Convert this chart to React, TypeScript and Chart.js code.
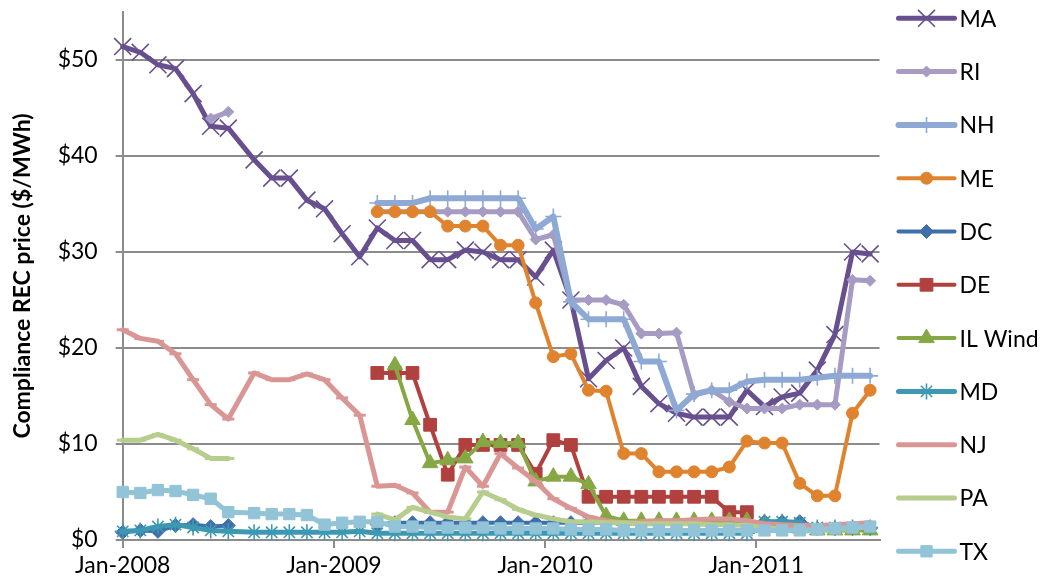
import React, { useEffect, useRef } from 'react';
import { Chart, registerables } from 'chart.js';
import { drawPoint } from 'chart.js/helpers';

Chart.register(...registerables);

// Observation dates (first months at month start, later mid-month)
const obsDates = [
  '2008-01-01', '2008-02-01', '2008-03-01', '2008-04-01', '2008-05-01', '2008-06-01', '2008-07-01',
  '2008-08-15', '2008-09-15', '2008-10-15', '2008-11-15', '2008-12-15',
  '2009-01-15', '2009-02-15', '2009-03-15', '2009-04-15', '2009-05-15', '2009-06-15',
  '2009-07-15', '2009-08-15', '2009-09-15', '2009-10-15', '2009-11-15', '2009-12-15',
  '2010-01-15', '2010-02-15', '2010-03-15', '2010-04-15', '2010-05-15', '2010-06-15',
  '2010-07-15', '2010-08-15', '2010-09-15', '2010-10-15', '2010-11-15', '2010-12-15',
  '2011-01-15', '2011-02-15', '2011-03-15', '2011-04-15', '2011-05-15', '2011-06-15', '2011-07-15',
];

const axisStart = '2008-01-01';
const axisEnd = '2011-08-01';
const tickDates = ['2008-01-01', '2009-01-01', '2010-01-01', '2011-01-01'];
const tickLabels = ['Jan-2008', 'Jan-2009', 'Jan-2010', 'Jan-2011'];
const yTicks = [0, 10, 20, 30, 40, 50];

const _ = null;

const maValues = [51.4, 50.8, 49.5, 49.1, 46.5, 43.1, 42.9, 39.6, 37.7, 37.7, 35.4, 34.5,
  31.9, 29.5, 32.5, 31.2, 31.2, 29.2, 29.2, 30.2, 30.0, 29.2, 29.2, 27.4,
  30.2, 25.0, 16.8, 18.7, 20.0, 16.0, 14.2, 13.2, 12.8, 12.8, 12.8, 15.6,
  13.9, 14.9, 15.3, 17.7, 21.4, 30.0, 29.8];
const riValues = [_, _, _, _, _, 43.9, 44.6, _, _, _, _, _,
  _, _, 34.2, 34.2, 34.2, 34.2, 34.2, 34.2, 34.2, 34.2, 34.2, 31.3,
  31.8, 25.0, 25.0, 25.0, 24.5, 21.5, 21.5, 21.6, 15.1, 15.6, 14.4, 13.7,
  13.7, 13.7, 14.1, 14.1, 14.1, 27.1, 27.0];
const nhValues = [_, _, _, _, _, _, _, _, _, _, _, _,
  _, _, 35.1, 35.1, 35.1, 35.6, 35.6, 35.6, 35.6, 35.6, 35.6, 32.4,
  33.7, 24.8, 23.0, 23.0, 23.0, 18.6, 18.6, 13.5, 15.2, 15.6, 15.6, 16.5,
  16.7, 16.7, 16.7, 16.9, 17.1, 17.1, 17.1];
const meValues = [_, _, _, _, _, _, _, _, _, _, _, _,
  _, _, 34.2, 34.2, 34.2, 34.2, 32.7, 32.7, 32.7, 30.7, 30.7, 24.7,
  19.1, 19.4, 15.6, 15.5, 9.0, 9.0, 7.1, 7.1, 7.1, 7.1, 7.6, 10.3,
  10.1, 10.1, 5.9, 4.6, 4.6, 13.2, 15.6];
const dcValues = [0.8, 1.0, 0.9, 1.5, 1.6, 1.4, 1.5, _, _, _, _, _,
  _, _, 1.6, 1.8, 1.8, 1.8, 1.8, 1.8, 1.8, 1.8, 1.8, 1.8,
  1.8, 1.8, 1.8, 1.8, 1.8, 1.8, 1.8, 1.8, 1.8, 1.8, 1.8, 1.8,
  1.9, 1.9, 1.9, 1.2, 1.2, 1.2, 1.2];
const deValues = [_, _, _, _, _, _, _, _, _, _, _, _,
  _, _, 17.4, 17.4, 17.4, 12.0, 6.8, 9.9, 9.9, 9.9, 9.9, 6.9,
  10.4, 9.9, 4.5, 4.5, 4.5, 4.5, 4.5, 4.5, 4.5, 4.5, 2.9, 2.9,
  _, _, _, _, _, _, _];
const ilWindValues = [_, _, _, _, _, _, _, _, _, _, _, _,
  _, _, _, 18.2, 12.5, 8.0, 8.3, 8.5, 10.2, 10.1, 10.1, 6.1,
  6.6, 6.6, 5.8, 2.5, 2.0, 2.0, 2.0, 2.0, 2.0, 2.0, 2.0, 2.0,
  1.6, 1.4, 1.2, 1.0, 1.0, 1.0, 1.0];
const mdValues = [0.9, 1.0, 1.4, 1.6, 1.3, 1.0, 0.9, 0.8, 0.8, 0.8, 0.8, 0.8,
  0.8, 0.9, 0.7, 0.7, 0.7, 0.7, 0.7, 0.7, 0.7, 0.7, 0.7, 0.7,
  0.7, 0.7, 0.7, 0.7, 0.7, 0.7, 0.7, 0.7, 0.7, 0.7, 0.7, 0.7,
  1.9, 1.9, 1.8, 1.3, 1.3, 1.3, 1.3];
const njValues = [21.9, 21.0, 20.7, 19.4, 16.7, 14.1, 12.6, 17.4, 16.7, 16.7, 17.3, 16.7,
  14.8, 13.0, 5.6, 5.7, 4.9, 2.9, 2.9, 7.6, 5.6, 9.0, 7.5, 6.1,
  4.3, 3.3, 2.4, 2.0, 1.8, 1.9, 2.0, 2.0, 2.1, 2.2, 2.2, 2.0,
  1.7, 1.6, 1.5, 1.5, 1.6, 1.7, 1.8];
const paValues = [10.4, 10.4, 11.0, 10.4, 9.5, 8.5, 8.5, _, _, _, _, _,
  _, _, 2.7, 2.1, 3.4, 2.9, 2.4, 2.2, 5.0, 4.2, 3.2, 2.6,
  2.2, 1.9, 1.9, 1.8, 1.8, 1.7, 1.7, 1.7, 1.7, 1.6, 1.6, 1.5,
  1.3, 1.1, 1.0, 1.0, 1.1, 1.2, 1.4];
const txValues = [5.0, 4.9, 5.2, 5.1, 4.7, 4.3, 2.9, 2.8, 2.7, 2.7, 2.6, 1.6,
  1.8, 1.9, 1.9, 1.4, 1.4, 1.3, 1.3, 1.3, 1.3, 1.2, 1.2, 1.2,
  1.2, 1.1, 1.1, 1.1, 1.0, 1.0, 1.0, 1.0, 1.0, 1.0, 1.0, 1.0,
  1.0, 1.0, 1.0, 1.1, 1.2, 1.3, 1.4];

const seriesNames = ['MA', 'RI', 'NH', 'ME', 'DC', 'DE', 'IL Wind', 'MD', 'NJ', 'PA', 'TX'];
const seriesValues = [maValues, riValues, nhValues, meValues, dcValues, deValues, ilWindValues,
  mdValues, njValues, paValues, txValues];

// Styles
const seriesStyles = [
  { color: '#68508F', width: 5, point: 'crossRot', radius: 12, pw: 1.6, fill: false },
  { color: '#A59BC3', width: 5, point: 'rectRot', radius: 5.5, pw: 1, fill: true },
  { color: '#8EA9D4', width: 6, point: 'cross', radius: 8, pw: 1.6, fill: false },
  { color: '#E0832F', width: 4, point: 'circle', radius: 6, pw: 1, fill: true },
  { color: '#3F6FAA', width: 4, point: 'rectRot', radius: 7, pw: 1, fill: true },
  { color: '#B0413E', width: 4, point: 'rect', radius: 9, pw: 1, fill: true },
  { color: '#86A844', width: 4, point: 'triangle', radius: 9, pw: 1, fill: true },
  { color: '#3D98B2', width: 5, point: 'star', radius: 8, pw: 1.6, fill: false },
  { color: '#D99694', width: 5, point: 'line', radius: 6, pw: 3, fill: false },
  { color: '#B6CD8D', width: 5, point: 'line', radius: 6, pw: 3, fill: false },
  { color: '#92C3D7', width: 5, point: 'rect', radius: 8, pw: 1, fill: true },
];

const FONT = 'Lato';

function toMonths(d: string): number {
  const [y, m, dd] = d.split('-').map(Number);
  return (y - 2008) * 12 + (m - 1) + (dd - 1) / 30;
}

const sideLegend = {
  id: 'sideLegend',
  afterDraw(chart: any) {
    const ctx = chart.ctx;
    const x0 = chart.chartArea.right + 19;
    chart.data.datasets.forEach((ds: any, i: number) => {
      const y = 18.3 + i * 53.3;
      ctx.save();
      ctx.strokeStyle = ds.borderColor;
      ctx.lineWidth = ds.borderWidth;
      ctx.lineCap = 'round';
      ctx.beginPath();
      ctx.moveTo(x0, y);
      ctx.lineTo(x0 + 56, y);
      ctx.stroke();
      ctx.fillStyle = ds.pointBackgroundColor;
      ctx.strokeStyle = ds.pointBorderColor;
      ctx.lineWidth = ds.pointBorderWidth;
      ctx.lineCap = 'butt';
      drawPoint(ctx, { pointStyle: ds.pointStyle, radius: ds.pointRadius, rotation: 0, borderWidth: ds.pointBorderWidth } as any, x0 + 28, y);
      ctx.fillStyle = '#000';
      ctx.font = `23px ${FONT}`;
      ctx.textBaseline = 'middle';
      ctx.textAlign = 'left';
      ctx.fillText(ds.label, x0 + 61, y + 1);
      ctx.restore();
    });
  },
};

export default function App() {
  const ref = useRef<HTMLCanvasElement | null>(null);
  useEffect(() => {
    if (!ref.current) return;
    const xs = obsDates.map(toMonths);
    const n = seriesNames.length;
    const datasets = seriesNames.map((name, i) => {
      const st = seriesStyles[i];
      return {
        label: name,
        data: seriesValues[i].map((v, k) => ({ x: xs[k], y: v })),
        borderColor: st.color,
        backgroundColor: st.color,
        borderWidth: st.width,
        pointStyle: st.point,
        pointRadius: st.radius,
        pointBorderWidth: st.pw,
        pointBorderColor: st.color,
        pointBackgroundColor: st.fill ? st.color : 'rgba(0,0,0,0)',
        borderJoinStyle: 'round',
        borderCapStyle: 'round',
        tension: 0,
        spanGaps: false,
        clip: false,
        order: n - i,
      };
    });
    const tickVals = tickDates.map(toMonths);
    const chart = new Chart(ref.current, {
      type: 'line',
      data: { datasets: datasets as any },
      plugins: [sideLegend],
      options: {
        animation: false,
        responsive: true,
        maintainAspectRatio: false,
        events: [],
        layout: { autoPadding: false, padding: { top: 12, right: 162.5, bottom: 0, left: 0 } },
        plugins: { legend: { display: false }, tooltip: { enabled: false } },
        scales: {
          x: {
            type: 'linear',
            min: toMonths(axisStart),
            max: toMonths(axisEnd),
            afterBuildTicks: (scale: any) => {
              scale.ticks = tickVals.map((v) => ({ value: v }));
            },
            afterFit: (scale: any) => {
              scale.height = 48;
              scale.paddingLeft = 0;
              scale.paddingRight = 0;
            },
            ticks: {
              autoSkip: false,
              maxRotation: 0,
              padding: 4,
              color: '#000',
              font: { family: FONT, size: 23 },
              callback: (v: any) => {
                const idx = tickVals.findIndex((t) => Math.abs(t - v) < 1e-6);
                return idx >= 0 ? tickLabels[idx] : '';
              },
            },
            grid: { drawOnChartArea: false, drawTicks: true, tickLength: 8, color: '#8C8C8C', lineWidth: 2 },
            border: { display: true, color: '#8C8C8C', width: 2 },
          },
          y: {
            type: 'linear',
            min: 0,
            max: 55,
            afterBuildTicks: (scale: any) => {
              scale.ticks = yTicks.map((v) => ({ value: v }));
            },
            afterFit: (scale: any) => {
              scale.width = 122.7;
              scale.paddingTop = 0;
              scale.paddingBottom = 0;
            },
            ticks: {
              padding: 18,
              color: '#000',
              font: { family: FONT, size: 23 },
              callback: (v: any) => '$' + v,
            },
            title: {
              display: true,
              text: 'Compliance REC price ($/MWh)',
              color: '#000',
              font: { family: FONT, size: 23, weight: 'bold' },
              padding: { top: 9, bottom: 1 },
            },
            grid: { color: '#8C8C8C', lineWidth: 2, tickLength: 7, drawTicks: true },
            border: { display: true, color: '#8C8C8C', width: 2 },
          },
        },
      } as any,
    });
    return () => chart.destroy();
  }, []);
  return (
    <div style={{ position: 'absolute', left: 0, top: 0, width: 1042, height: 588 }}>
      <canvas ref={ref} />
    </div>
  );
}
